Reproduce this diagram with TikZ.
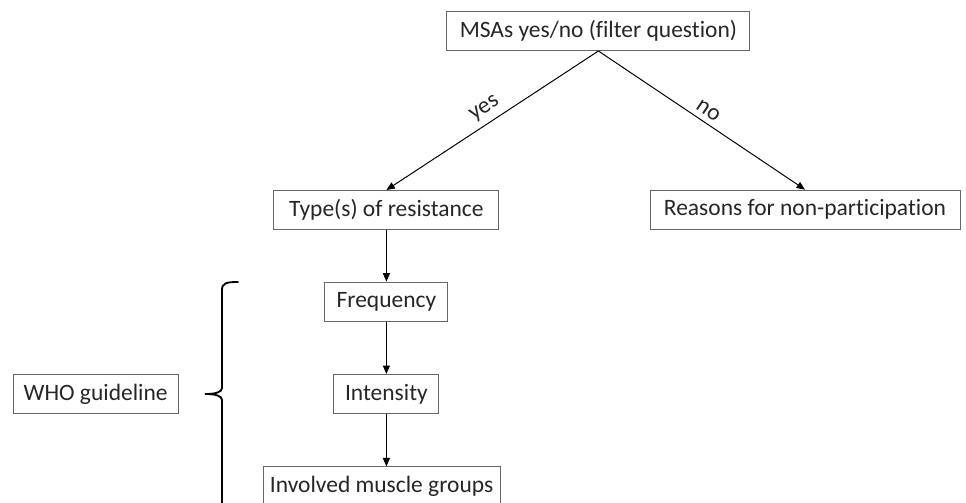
\documentclass[tikz,border=0pt]{standalone}
\usepackage{fontspec}
\setmainfont{Carlito}[Ligatures=NoCommon]
\usepackage{tikz}
\usetikzlibrary{arrows.meta}
\tikzset{stagebox/.style={rectangle, draw=black!60, line width=0.7pt, text=black!85,
minimum height=0.975cm, inner sep=0pt, font=\fontsize{16.7}{20}\selectfont},
flow/.style={black, line width=0.7pt, -{Triangle[length=6pt,width=5pt]}},
branch/.style={text=black!85, font=\fontsize{16.7}{20}\selectfont, sloped, above, inner sep=4pt},
bracket/.style={black, line width=1.3pt, line cap=round}}

\begin{document}
\begin{tikzpicture}
\coordinate (TopLeft) at (0,0);
\coordinate (BottomRight) at (24.15,-12.55);
\useasboundingbox (TopLeft) rectangle (BottomRight);
\clip (TopLeft) rectangle (BottomRight);

%%Filter question
\node[stagebox, minimum width=7.575cm] (MSA) at (14.96,-0.775) {MSAs yes/no (filter question)};

%%Branches
\node[stagebox, minimum width=5.625cm] (Type) at (9.66,-5.25) {Type(s) of resistance};
\node[stagebox, minimum width=7.75cm] (Reason) at (20.125,-5.24) {Reasons for non-participation};

\draw[flow] (MSA.south) -- node[branch] {yes} (Type.north);
\draw[flow] (MSA.south) -- node[branch] {no} (Reason.north);

%%WHO part
\node[stagebox, minimum width=3.075cm] (Freq) at (9.66,-7.54) {Frequency};
\node[stagebox, minimum width=2.625cm] (Intens) at (9.66,-9.85) {Intensity};
\node[stagebox, minimum width=5.925cm] (Muscle) at (9.54,-12.16) {Involved muscle groups};

\draw[flow] (Type.south) -- (Freq.north);
\draw[flow] (Freq.south) -- (Intens.north);
\draw[flow] (Intens.south) -- (Intens.south |- Muscle.north);

\node[stagebox, minimum width=4.125cm] (WHO) at (2.39,-9.85) {WHO guideline};

%%Brace
\coordinate (BraceTip) at (5.125,-9.85);
\draw[bracket] (5.95,-7.05) .. controls (5.65,-7.05) and (5.55,-7.08) .. (5.55,-7.25)
  -- (5.55,-9.7) .. controls (5.55,-9.8) and (5.4,-9.85) .. (BraceTip)
  .. controls (5.4,-9.85) and (5.55,-9.9) .. (5.55,-10.0) -- (5.55,-13.5);

\end{tikzpicture}
\end{document}
